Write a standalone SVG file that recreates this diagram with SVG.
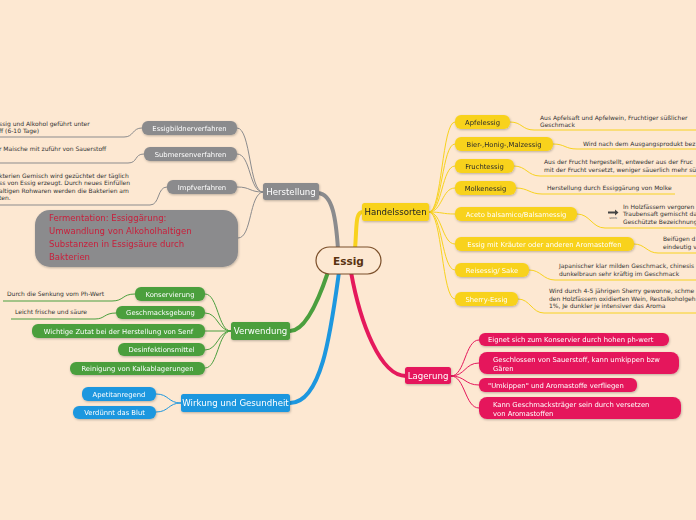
<svg xmlns="http://www.w3.org/2000/svg" width="696" height="520" viewBox="0 0 696 520">
<defs>
<filter id="sh" x="-10%" y="-20%" width="120%" height="160%"><feDropShadow dx="0.6" dy="1" stdDeviation="0.8" flood-color="#000" flood-opacity="0.25"/></filter>
<style>
text{font-family:"DejaVu Sans","Liberation Sans",sans-serif}
.gray{fill:#8b8b8d}
.yel{fill:#f8d21e}
.pink{fill:#e5195c}
.grn{fill:#4b9f3e}
.blu{fill:#1d97df}
.mt{font-size:8.6px;fill:#fff;text-anchor:middle}
.st{font-size:6.8px;fill:#fff;text-anchor:middle}
.sd{font-size:6.8px;fill:#2a2a2a;text-anchor:middle}
.ds{font-size:6px;fill:#333}
.cg{fill:none;stroke:#8b8b8d;stroke-width:1}
.cy{fill:none;stroke:#f8d21e;stroke-width:1}
.cp{fill:none;stroke:#e5195c;stroke-width:1}
.cgr{fill:none;stroke:#4b9f3e;stroke-width:1}
.cb{fill:none;stroke:#1d97df;stroke-width:1}
</style>
</defs>
<rect width="696" height="520" fill="#fde8d2"/>

<g id="connectors">
<path d="M338,249 C336,220 333,194 318,193" fill="none" stroke="#8b8b8d" stroke-width="4"/>
<path d="M355,249 C357,226 355,212 363,212" fill="none" stroke="#f8d21e" stroke-width="4"/>
<path d="M351,272 C360,322 380,376 406,376" fill="none" stroke="#e5195c" stroke-width="4"/>
<path d="M328,272 C318,302 305,331 290,331" fill="none" stroke="#4b9f3e" stroke-width="4"/>
<path d="M339,272 C331,330 322,403 290,403" fill="none" stroke="#1d97df" stroke-width="4"/>

<path class="cg" d="M263,192 C249,192 251,128 237,128"/>
<path class="cg" d="M263,192 C249,192 251,154 237,154"/>
<path class="cg" d="M263,192 C249,192 251,187 237,187"/>
<path class="cg" d="M263,192 C249,194 252,238 238,238"/>
<path class="cg" d="M0,137 L124,137 C134,137 132,128 142,128"/>
<path class="cg" d="M0,163 L128,163 C138,163 134,154 144,154"/>
<path class="cg" d="M0,205 L150,205 C160,205 157,187 167,187"/>

<path class="cy" d="M429,212 C442,212 442,122 455,122"/>
<path class="cy" d="M429,212 C442,212 442,144 455,144"/>
<path class="cy" d="M429,212 C442,212 442,166 455,166"/>
<path class="cy" d="M429,212 C442,212 442,188 455,188"/>
<path class="cy" d="M429,212 C442,212 442,214 455,214"/>
<path class="cy" d="M429,212 C442,212 442,244 455,244"/>
<path class="cy" d="M429,212 C442,212 442,270 455,270"/>
<path class="cy" d="M429,212 C442,212 442,299 455,299"/>
<path class="cy" d="M510,122 C522,122 522,130 534,130 L696,130"/>
<path class="cy" d="M553,144 C565,144 565,149 577,149 L696,149"/>
<path class="cy" d="M514,166 C526,166 528,176 540,176 L696,176"/>
<path class="cy" d="M516,188 C528,188 530,194 542,194 L675,194"/>
<path class="cy" d="M577,214 C590,214 592,228 605,228 L696,228"/>
<path class="cy" d="M634,244 C645,244 647,253 658,253 L696,253"/>
<path class="cy" d="M529,270 C541,270 543,280 555,280 L696,280"/>
<path class="cy" d="M518,299 C530,299 532,313 544,313 L696,313"/>

<path class="cp" d="M451,376 C465,376 465,340 479,340"/>
<path class="cp" d="M451,376 C465,376 465,363 479,363"/>
<path class="cp" d="M451,376 C465,376 465,385 479,385"/>
<path class="cp" d="M451,376 C465,376 465,408 479,408"/>

<path class="cgr" d="M231,331 C218,331 218,294 205,294"/>
<path class="cgr" d="M231,331 C218,331 218,313 205,313"/>
<path class="cgr" d="M231,331 L205,331"/>
<path class="cgr" d="M231,331 C218,331 218,350 205,350"/>
<path class="cgr" d="M231,331 C218,331 218,368 205,368"/>
<path class="cgr" d="M3,301 L112,301 C124,301 122,294 135,294"/>
<path class="cgr" d="M11,319 L95,319 C105,319 104,313 116,313"/>

<path class="cb" d="M181,403 C168,403 169,394 156,394"/>
<path class="cb" d="M181,403 C168,403 169,412 156,412"/>
</g>

<g id="essig">
<rect x="316" y="247" width="65" height="27" rx="13.5" fill="#fde8d2" stroke="#7b4f2a" stroke-width="1.2"/>
<text x="348.5" y="264.5" font-size="10.5" font-weight="bold" fill="#5a3310" text-anchor="middle">Essig</text>
</g>

<g id="herstellung" filter="url(#sh)">
<rect class="gray" x="263" y="183" width="56" height="17" rx="2.5"/>
<text class="mt" x="291" y="195">Herstellung</text>
</g>
<g id="essigbildnerverfahren" filter="url(#sh)">
<rect class="gray" x="142" y="121" width="95" height="14" rx="6"/>
<text class="st" x="189.5" y="130.5">Essigbildnerverfahren</text>
</g>
<g id="submersenverfahren" filter="url(#sh)">
<rect class="gray" x="144" y="147" width="93" height="14" rx="6"/>
<text class="st" x="190.5" y="156.5">Submersenverfahren</text>
</g>
<g id="impfverfahren" filter="url(#sh)">
<rect class="gray" x="167" y="180" width="70" height="14" rx="6"/>
<text class="st" x="202" y="189.5">Impfverfahren</text>
</g>
<g id="fermentation" filter="url(#sh)">
<rect class="gray" x="35" y="210" width="203" height="57" rx="15"/>
<text x="49" y="221" font-size="8.5" fill="#c8203c">Fermentation: Essiggärung:</text>
<text x="49" y="234" font-size="8.5" fill="#c8203c">Umwandlung von Alkoholhaltigen</text>
<text x="49" y="247" font-size="8.5" fill="#c8203c">Substanzen in Essigsäure durch</text>
<text x="49" y="260" font-size="8.5" fill="#c8203c">Bakterien</text>
</g>
<g id="herst-texts">
<text class="ds" x="-1" y="126">ssig und Alkohol geführt unter</text>
<text class="ds" x="-1" y="133">ff (6-10 Tage)</text>
<text class="ds" x="-1" y="151">r Maische mit zuführ von Sauerstoff</text>
<text class="ds" x="-1" y="177.5">kterien Gemisch wird gezüchtet der täglich</text>
<text class="ds" x="-1" y="184.5">ss von Essig erzeugt. Durch neues Einfüllen</text>
<text class="ds" x="-1" y="192.5">altigen Rohwaren werden die Bakterien am</text>
<text class="ds" x="-1" y="199.5">ten.</text>
</g>

<g id="handelssorten" filter="url(#sh)">
<rect class="yel" x="362" y="203" width="67" height="18" rx="2.5"/>
<text class="mt" x="395.5" y="215" style="fill:#222">Handelssorten</text>
</g>
<g id="apfelessig" filter="url(#sh)"><rect class="yel" x="455" y="115" width="55" height="14" rx="6"/><text class="sd" x="482.5" y="124.5">Apfelessig</text></g>
<g id="bier" filter="url(#sh)"><rect class="yel" x="455" y="137" width="98" height="14" rx="6"/><text class="sd" x="504" y="146.5">Bier-,Honig-,Malzessig</text></g>
<g id="fruchtessig" filter="url(#sh)"><rect class="yel" x="455" y="159" width="59" height="14" rx="6"/><text class="sd" x="484.5" y="168.5">Fruchtessig</text></g>
<g id="molkenessig" filter="url(#sh)"><rect class="yel" x="455" y="181" width="61" height="14" rx="6"/><text class="sd" x="485.5" y="190.5">Molkenessig</text></g>
<g id="aceto" filter="url(#sh)"><rect class="yel" x="455" y="207" width="122" height="14" rx="6"/><text class="st" x="516" y="216.5">Aceto balsamico/Balsamessig</text></g>
<g id="kraeuter" filter="url(#sh)"><rect class="yel" x="455" y="237" width="179" height="14" rx="6"/><text class="st" x="544.5" y="246.5">Essig mit Kräuter oder anderen Aromastoffen</text></g>
<g id="reisessig" filter="url(#sh)"><rect class="yel" x="455" y="263" width="74" height="14" rx="6"/><text class="st" x="492" y="272.5">Reisessig/ Sake</text></g>
<g id="sherry" filter="url(#sh)"><rect class="yel" x="455" y="292" width="63" height="14" rx="6"/><text class="st" x="486.5" y="301.5">Sherry-Essig</text></g>
<g id="handel-texts">
<text class="ds" x="540" y="120">Aus Apfelsaft und Apfelwein, Fruchtiger süßlicher</text>
<text class="ds" x="540" y="127">Geschmack</text>
<text class="ds" x="583" y="146">Wird nach dem Ausgangsprodukt bez</text>
<text class="ds" x="544" y="164">Aus der Frucht hergestellt, entweder aus der Fruc</text>
<text class="ds" x="544" y="171.5">mit der Frucht versetzt, weniger säuerlich mehr sü</text>
<text class="ds" x="547" y="190">Herstellung durch Essiggärung von Molke</text>
<path d="M608,211.5 h7 v-2 l3.5,3 l-3.5,3 v-2 h-7 z" fill="#444"/>
<text x="613" y="219" font-size="2.6" fill="#555" text-anchor="middle">SOON</text>
<text class="ds" x="623" y="209">In Holzfässern vergoren</text>
<text class="ds" x="623" y="216">Traubensaft gemischt da</text>
<text class="ds" x="623" y="224">Geschützte Bezeichnung</text>
<text class="ds" x="663" y="241">Beifügen d</text>
<text class="ds" x="663" y="248.5">eindeutig v</text>
<text class="ds" x="559" y="268">Japanischer klar milden Geschmack, chinesis</text>
<text class="ds" x="559" y="275.5">dunkelbraun sehr kräftig im Geschmack</text>
<text class="ds" x="549" y="293">Wird durch 4-5 jährigen Sherry gewonne, schme</text>
<text class="ds" x="549" y="300.5">den Holzfässern oxidierten Wein, Restalkoholgeh</text>
<text class="ds" x="549" y="308">1%, Je dunkler je intensiver das Aroma</text>
</g>

<g id="lagerung" filter="url(#sh)">
<rect class="pink" x="405" y="367" width="46" height="17" rx="2.5"/>
<text class="mt" x="428" y="379">Lagerung</text>
</g>
<g id="lag1" filter="url(#sh)"><rect class="pink" x="479" y="333" width="190" height="13" rx="6"/><text class="st" x="488" y="342" style="text-anchor:start">Eignet sich zum Konservier durch hohen ph-wert</text></g>
<g id="lag2" filter="url(#sh)"><rect class="pink" x="479" y="352" width="200" height="22" rx="8"/><text class="st" x="493" y="361.5" style="text-anchor:start">Geschlossen von Sauerstoff, kann umkippen bzw</text><text class="st" x="493" y="370.5" style="text-anchor:start">Gären</text></g>
<g id="lag3" filter="url(#sh)"><rect class="pink" x="479" y="378" width="158" height="14" rx="6"/><text class="st" x="488" y="387.5" style="text-anchor:start">"Umkippen" und Aromastoffe verfliegen</text></g>
<g id="lag4" filter="url(#sh)"><rect class="pink" x="479" y="397" width="202" height="22" rx="8"/><text class="st" x="493" y="406.5" style="text-anchor:start">Kann Geschmacksträger sein durch versetzen</text><text class="st" x="493" y="415.5" style="text-anchor:start">von Aromastoffen</text></g>

<g id="verwendung" filter="url(#sh)">
<rect class="grn" x="231" y="322" width="59" height="18" rx="2.5"/>
<text class="mt" x="260.5" y="334">Verwendung</text>
</g>
<g id="konservierung" filter="url(#sh)"><rect class="grn" x="135" y="287" width="70" height="14" rx="6"/><text class="st" x="170" y="296.5">Konservierung</text></g>
<g id="geschmack" filter="url(#sh)"><rect class="grn" x="116" y="306" width="89" height="13" rx="6"/><text class="st" x="160.5" y="315">Geschmacksgebung</text></g>
<g id="senf" filter="url(#sh)"><rect class="grn" x="32" y="324" width="173" height="14" rx="6"/><text class="st" x="118.5" y="333.5">Wichtige Zutat bei der Herstellung von Senf</text></g>
<g id="desinf" filter="url(#sh)"><rect class="grn" x="118" y="343" width="87" height="13" rx="6"/><text class="st" x="161.5" y="352">Desinfektionsmittel</text></g>
<g id="kalk" filter="url(#sh)"><rect class="grn" x="70" y="362" width="135" height="13" rx="6"/><text class="st" x="137.5" y="371">Reinigung von Kalkablagerungen</text></g>
<g id="verw-texts">
<text class="ds" x="7" y="296">Durch die Senkung vom Ph-Wert</text>
<text class="ds" x="15" y="314">Leicht frische und säure</text>
</g>

<g id="wirkung" filter="url(#sh)">
<rect class="blu" x="181" y="394" width="109" height="18" rx="2.5"/>
<text class="mt" x="235.5" y="406">Wirkung und Gesundheit</text>
</g>
<g id="apetit" filter="url(#sh)"><rect class="blu" x="82" y="387" width="74" height="14" rx="6"/><text class="st" x="119" y="396.5">Apetitanregend</text></g>
<g id="blut" filter="url(#sh)"><rect class="blu" x="73" y="406" width="83" height="13" rx="6"/><text class="st" x="114.5" y="415">Verdünnt das Blut</text></g>
</svg>
